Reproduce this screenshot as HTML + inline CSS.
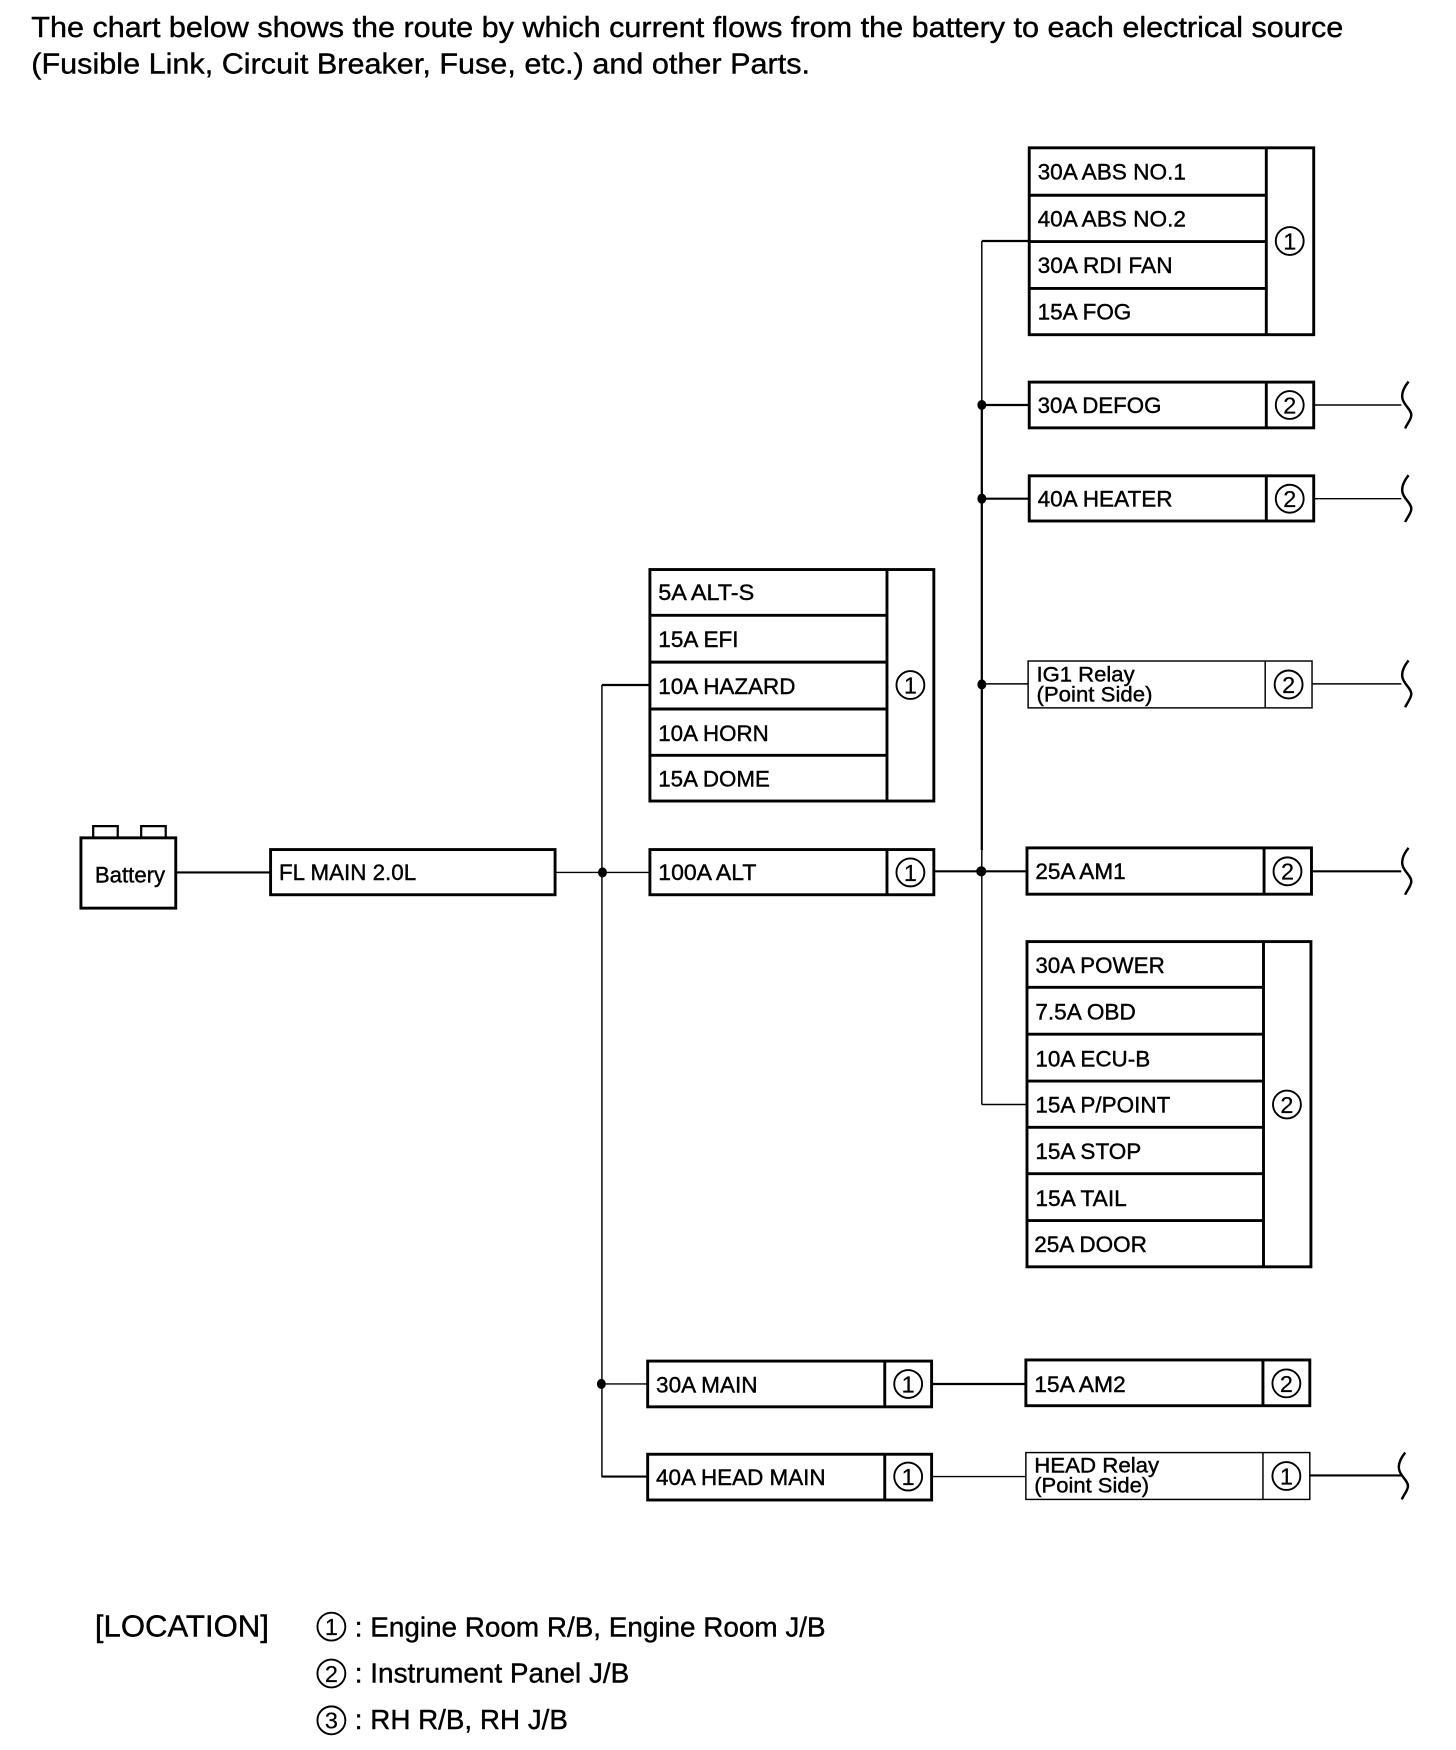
<!DOCTYPE html>
<html><head><meta charset="utf-8"><style>
html,body{margin:0;padding:0;background:#fff}
svg{display:block}
text{font-family:"Liberation Sans",sans-serif;fill:#000;stroke:#000;stroke-width:.35}
.l{font-size:20px}
.r{font-size:19px}
.n{font-size:21px;text-anchor:middle;stroke-width:.2}
.h{font-size:26px}
.g{font-size:25px}
.k rect,.k path,.k line{fill:none;stroke:#000;stroke-width:2.6}
.t{fill:none;stroke:#000;stroke-width:1.3}
.m{fill:none;stroke:#000;stroke-width:2}
.c{fill:none;stroke:#000;stroke-width:1.7}
.b{fill:none;stroke:#000;stroke-width:2.2}
</style></head><body>
<svg xmlns="http://www.w3.org/2000/svg" width="1456" height="1750" viewBox="0 0 1305 1568.6">
<rect x="0" y="0" width="1305" height="1569" fill="#fff"/>
<text class="h" x="28" y="33" textLength="1176" lengthAdjust="spacingAndGlyphs">The chart below shows the route by which current flows from the battery to each electrical source</text>
<text class="h" x="28" y="66" textLength="698" lengthAdjust="spacingAndGlyphs">(Fusible Link, Circuit Breaker, Fuse, etc.) and other Parts.</text>

<!-- wires -->
<path class="t" d="M880 216V360"/>
<path class="m" d="M880 216H922"/>
<path class="m" d="M880 360V762"/>
<path class="t" d="M880 762V990"/>
<path class="t" d="M880 990H920"/>
<path class="m" d="M880 363H922M880 447H922"/>
<path class="t" d="M880 613H922"/>
<path class="m" d="M837 781H920"/>
<path class="t" d="M1178 363H1256M1178 447H1256M1176 613H1256"/>
<path class="m" d="M1176 781H1256"/>
<path class="m" d="M539.500 614H582"/>
<path class="t" d="M539.500 614V1323.500"/>
<path class="m" d="M539 1323.500H580"/>
<path class="t" d="M539 1240.500H580"/>
<path class="m" d="M158 782H242"/>
<path class="t" d="M498 782H582"/>
<path class="m" d="M835 1240.500H919"/>
<path class="t" d="M835 1323.500H919"/>
<path class="m" d="M1174 1322.500H1256"/>

<!-- brackets -->
<path class="b" d="M1262.500 342C1258.500 347 1256 352 1257 357C1258 363 1265 367 1265 372C1265 376 1261 380 1259.500 384"/>
<path class="b" d="M1262.500 426C1258.500 431 1256 436 1257 441C1258 447 1265 451 1265 456C1265 460 1261 464 1259.500 468"/>
<path class="b" d="M1262.500 592C1258.500 597 1256 602 1257 607C1258 613 1265 617 1265 622C1265 626 1261 630 1259.500 634"/>
<path class="b" d="M1262.500 760C1258.500 765 1256 770 1257 775C1258 781 1265 785 1265 790C1265 794 1261 798 1259.500 802"/>
<path class="b" d="M1259.500 1302C1255.500 1307 1253 1312 1254 1317C1255 1323 1262 1327 1262 1332C1262 1336 1258 1340 1256.500 1344"/>

<!-- dots -->
<g fill="#000">
<ellipse cx="880" cy="363" rx="4" ry="4.500"/>
<ellipse cx="880" cy="447" rx="4" ry="4.500"/>
<ellipse cx="880" cy="613.500" rx="4" ry="4.500"/>
<ellipse cx="879.500" cy="781" rx="4.500" ry="4.500"/>
<ellipse cx="540" cy="782" rx="4" ry="4.500"/>
<ellipse cx="539" cy="1240.500" rx="4" ry="4.500"/>
</g>

<!-- boxes -->
<g class="k">
<rect x="922.500" y="132.500" width="255" height="167.500" fill="#fff"/>
<path d="M1135 132V300M922 175H1135M922 216.500H1135M922 258.500H1135"/>
<rect x="922.500" y="342.500" width="255" height="41"/>
<path d="M1135 342V384"/>
<rect x="922.500" y="426.500" width="255" height="40.500"/>
<path d="M1135 426V467"/>
<rect x="920.500" y="760" width="255" height="41.500"/>
<path d="M1133 760V802"/>
<rect x="920.500" y="844" width="254.500" height="291.500"/>
<path d="M1132.500 844V1136M920 885H1132M920 927H1132M920 969H1132M920 1010.500H1132M920 1052H1132M920 1094H1132"/>
<rect x="582.500" y="510.500" width="254.500" height="207.500"/>
<path d="M795 510V718M582 551.500H795M582 593.500H795M582 635.500H795M582 677H795"/>
<rect x="582.500" y="761.500" width="254.500" height="40.500"/>
<path d="M795 761V802"/>
<rect x="242.500" y="761.500" width="255" height="40.500"/>
<rect x="72.500" y="751" width="85" height="63"/>
<path d="M83.500 751V740.500H105.500V751M126.500 751V740.500H148.500V751" style="stroke-width:2"/>
<rect x="580.500" y="1220" width="254.500" height="41"/>
<path d="M793 1220V1261"/>
<rect x="580.500" y="1303.500" width="254.500" height="41"/>
<path d="M793 1303V1344"/>
<rect x="919.500" y="1219" width="254.500" height="41"/>
<path d="M1132 1219V1260"/>
</g>
<rect class="t" x="921.500" y="592.500" width="254.500" height="42"/>
<path class="t" d="M1134 592V634"/>
<rect class="t" x="919.500" y="1302" width="254.500" height="42"/>
<path class="t" d="M1132 1302V1344"/>

<!-- labels -->
<text class="l" x="930" y="161" textLength="133" lengthAdjust="spacingAndGlyphs">30A ABS NO.1</text>
<text class="l" x="930" y="203" textLength="133" lengthAdjust="spacingAndGlyphs">40A ABS NO.2</text>
<text class="l" x="930" y="244.500" textLength="121" lengthAdjust="spacingAndGlyphs">30A RDI FAN</text>
<text class="l" x="930" y="286.500" textLength="84" lengthAdjust="spacingAndGlyphs">15A FOG</text>
<text class="l" x="930" y="370" textLength="111" lengthAdjust="spacingAndGlyphs">30A DEFOG</text>
<text class="l" x="930" y="454" textLength="121" lengthAdjust="spacingAndGlyphs">40A HEATER</text>
<text class="r" x="929" y="611" textLength="88" lengthAdjust="spacingAndGlyphs">IG1 Relay</text>
<text class="r" x="929" y="629" textLength="104" lengthAdjust="spacingAndGlyphs">(Point Side)</text>
<text class="l" x="928" y="788" textLength="81" lengthAdjust="spacingAndGlyphs">25A AM1</text>
<text class="l" x="928" y="872" textLength="116" lengthAdjust="spacingAndGlyphs">30A POWER</text>
<text class="l" x="928" y="914" textLength="90" lengthAdjust="spacingAndGlyphs">7.5A OBD</text>
<text class="l" x="928" y="956" textLength="103" lengthAdjust="spacingAndGlyphs">10A ECU-B</text>
<text class="l" x="928" y="997" textLength="121" lengthAdjust="spacingAndGlyphs">15A P/POINT</text>
<text class="l" x="928" y="1039" textLength="95" lengthAdjust="spacingAndGlyphs">15A STOP</text>
<text class="l" x="928" y="1081" textLength="82" lengthAdjust="spacingAndGlyphs">15A TAIL</text>
<text class="l" x="927" y="1122" textLength="101" lengthAdjust="spacingAndGlyphs">25A DOOR</text>
<text class="l" x="590" y="538" textLength="86" lengthAdjust="spacingAndGlyphs">5A ALT-S</text>
<text class="l" x="590" y="580" textLength="72" lengthAdjust="spacingAndGlyphs">15A EFI</text>
<text class="l" x="590" y="622" textLength="123" lengthAdjust="spacingAndGlyphs">10A HAZARD</text>
<text class="l" x="590" y="664" textLength="99" lengthAdjust="spacingAndGlyphs">10A HORN</text>
<text class="l" x="590" y="705" textLength="100" lengthAdjust="spacingAndGlyphs">15A DOME</text>
<text class="l" x="590" y="789" textLength="88" lengthAdjust="spacingAndGlyphs">100A ALT</text>
<text class="l" x="250" y="789" textLength="123" lengthAdjust="spacingAndGlyphs">FL MAIN 2.0L</text>
<text class="l" x="85" y="791" textLength="63" lengthAdjust="spacingAndGlyphs">Battery</text>
<text class="l" x="588" y="1248" textLength="91" lengthAdjust="spacingAndGlyphs">30A MAIN</text>
<text class="l" x="588" y="1331" textLength="152" lengthAdjust="spacingAndGlyphs">40A HEAD MAIN</text>
<text class="l" x="927" y="1247.500" textLength="82" lengthAdjust="spacingAndGlyphs">15A AM2</text>
<text class="r" x="927" y="1320" textLength="112" lengthAdjust="spacingAndGlyphs">HEAD Relay</text>
<text class="r" x="927" y="1338" textLength="103" lengthAdjust="spacingAndGlyphs">(Point Side)</text>

<!-- circled numbers -->
<g>
<circle class="c" cx="1156" cy="216" r="12.500"/><text class="n" x="1156" y="223.500">1</text>
<circle class="c" cx="1156" cy="363" r="12.500"/><text class="n" x="1156" y="370.500">2</text>
<circle class="c" cx="1156" cy="447" r="12.500"/><text class="n" x="1156" y="454.500">2</text>
<circle class="c" cx="1155" cy="613.500" r="12.500"/><text class="n" x="1155" y="621">2</text>
<circle class="c" cx="1154" cy="781" r="12.500"/><text class="n" x="1154" y="788.500">2</text>
<circle class="c" cx="1153.500" cy="990" r="12.500"/><text class="n" x="1153.500" y="997.500">2</text>
<circle class="c" cx="816" cy="614" r="12.500"/><text class="n" x="816" y="621.500">1</text>
<circle class="c" cx="816" cy="782" r="12.500"/><text class="n" x="816" y="789.500">1</text>
<circle class="c" cx="814" cy="1240.500" r="12.500"/><text class="n" x="814" y="1248">1</text>
<circle class="c" cx="814" cy="1323.500" r="12.500"/><text class="n" x="814" y="1331">1</text>
<circle class="c" cx="1153" cy="1240" r="12.500"/><text class="n" x="1153" y="1247.500">2</text>
<circle class="c" cx="1153" cy="1323" r="12.500"/><text class="n" x="1153" y="1330.500">1</text>
</g>

<!-- legend -->
<text class="g" x="85" y="1467" textLength="156" lengthAdjust="spacingAndGlyphs" style="font-size:27px">[LOCATION]</text>
<circle class="c" cx="297" cy="1458" r="12.500"/><text class="n" x="297" y="1465.500">1</text>
<circle class="c" cx="297" cy="1500" r="12.500"/><text class="n" x="297" y="1507.500">2</text>
<circle class="c" cx="297" cy="1542" r="12.500"/><text class="n" x="297" y="1549.500">3</text>
<text class="g" x="318" y="1467" textLength="422" lengthAdjust="spacingAndGlyphs">: Engine Room R/B, Engine Room J/B</text>
<text class="g" x="318" y="1508" textLength="246" lengthAdjust="spacingAndGlyphs">: Instrument Panel J/B</text>
<text class="g" x="318" y="1550" textLength="191" lengthAdjust="spacingAndGlyphs">: RH R/B, RH J/B</text>
</svg>
</body></html>
